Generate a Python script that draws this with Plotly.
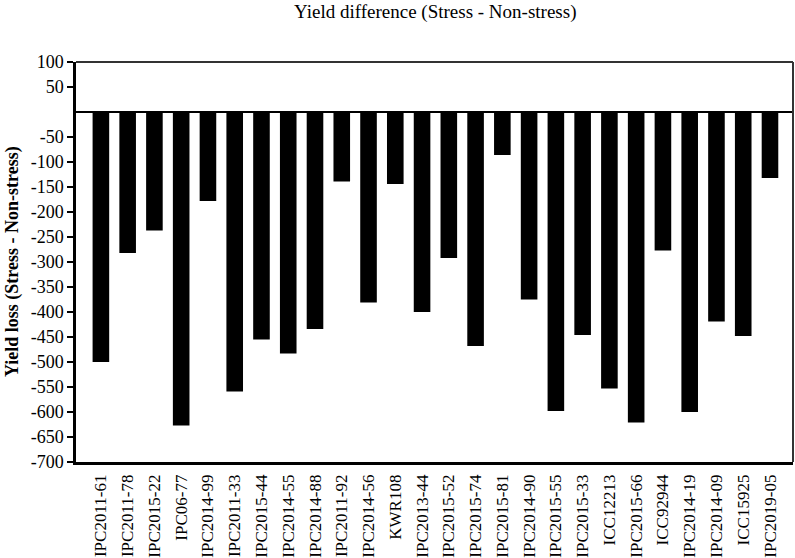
import plotly.graph_objects as go

genotypes = ["IPC2011-61", "IPC2011-78", "IPC2015-22", "IPC06-77", "IPC2014-99",
             "IPC2011-33", "IPC2015-44", "IPC2014-55", "IPC2014-88", "IPC2011-92",
             "IPC2014-56", "KWR108", "IPC2013-44", "IPC2015-52", "IPC2015-74",
             "IPC2015-81", "IPC2014-90", "IPC2015-55", "IPC2015-33", "ICC12213",
             "IPC2015-66", "ICC92944", "IPC2014-19", "IPC2014-09", "ICC15925",
             "IPC2019-05"]
yield_diff = [-500, -282, -237, -627, -178,
              -559, -455, -483, -434, -139,
              -381, -144, -400, -292, -468,
              -86, -375, -598, -446, -553,
              -621, -277, -600, -419, -448,
              -132]
y_ticks = [100, 50, -50, -100, -150, -200, -250, -300, -350, -400, -450,
           -500, -550, -600, -650, -700]

FONT = "Liberation Serif"

fig = go.Figure()
fig.add_trace(go.Bar(
    x=genotypes, y=yield_diff,
    marker=dict(color="black", line=dict(width=0)),
    width=0.62,
))

fig.update_layout(
    width=795, height=558,
    margin=dict(l=76, r=2, t=62, b=96, autoexpand=False),
    paper_bgcolor="white", plot_bgcolor="white",
    showlegend=False,
    font=dict(family=FONT, color="black", size=18),
)

fig.update_xaxes(
    type="category",
    range=[-0.93, 25.86],
    tickangle=-90,
    tickfont=dict(family=FONT, size=17, color="black"),
    showline=True, linecolor="black", linewidth=2.5,
    ticks="", showgrid=False, zeroline=False,
    ticklabelstandoff=3,
    automargin=False,
)
fig.update_yaxes(
    range=[-700, 100],
    tickvals=y_ticks,
    ticktext=[str(v) for v in y_ticks],
    ticks="outside", ticklen=6, tickwidth=1.5, tickcolor="black",
    tickfont=dict(family=FONT, size=18, color="black"),
    showline=True, linecolor="black", linewidth=2.5,
    showgrid=False,
    zeroline=True, zerolinecolor="black", zerolinewidth=2,
    automargin=False,
)

# top and right frame
fig.add_shape(type="line", xref="paper", yref="paper", x0=0, x1=1, y0=1, y1=1,
              line=dict(color="#333333", width=2))
fig.add_shape(type="line", xref="paper", yref="paper", x0=1, x1=1, y0=0, y1=1,
              line=dict(color="#333333", width=2))

fig.add_annotation(
    text="Yield difference (Stress - Non-stress)",
    xref="paper", yref="paper", x=0.5, y=1 + (62 - 12) / 400,
    xanchor="center", yanchor="middle", showarrow=False,
    font=dict(family=FONT, size=19, color="black"),
)
fig.add_annotation(
    text="<b>Yield loss (Stress - Non-stress)</b>",
    xref="paper", yref="paper", x=(12 - 76) / 717, y=0.5,
    xanchor="center", yanchor="middle", textangle=-90, showarrow=False,
    font=dict(family=FONT, size=18, color="black"),
)

fig.write_html(
    "out.html",
    config={"displayModeBar": False},
    post_script="document.body.style.margin='0';document.body.style.padding='0';",
)
